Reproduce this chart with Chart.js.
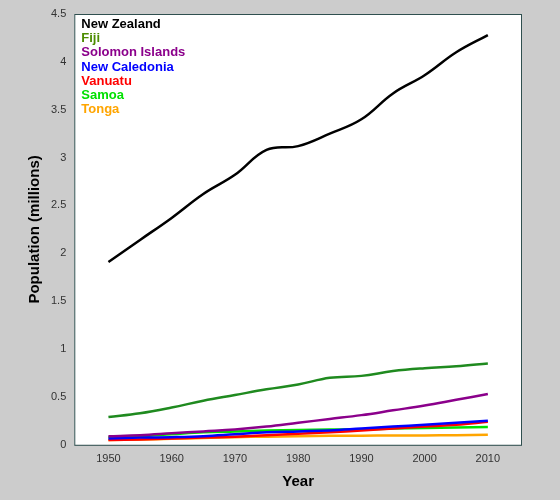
<!DOCTYPE html><html><head><script src="https://cdn.jsdelivr.net/npm/chart.js@4"></script>
<style>html,body{margin:0;background:#cccccc}</style></head><body>
<div style="width:560px;height:500px"><canvas id="c"></canvas></div>
<script>
const years=[1950,1955,1960,1965,1970,1975,1980,1985,1990,1995,2000,2005,2010];
const names=["New Zealand","Fiji","Solomon Islands","New Caledonia","Vanuatu","Samoa","Tonga"];
const colors=["#000000","#1f8a1f","#8b008b","#0000ff","#ff0000","#00e000","#ffa500"];
const textColors=["#000000","#4c8c00","#8b008b","#0000ff","#ff0000","#00e000","#ffa500"];
const nz=[1.91,2.14,2.37,2.62,2.82,3.08,3.12,3.25,3.40,3.67,3.86,4.10,4.28];
const fiji=[0.29,0.33,0.39,0.46,0.52,0.58,0.63,0.70,0.72,0.77,0.80,0.82,0.85];
const solomon=[0.09,0.10,0.12,0.14,0.16,0.19,0.23,0.27,0.31,0.36,0.41,0.47,0.53];
const caledonia=[0.065,0.075,0.08,0.09,0.11,0.13,0.14,0.15,0.17,0.19,0.21,0.23,0.25];
const vanuatu=[0.05,0.055,0.065,0.075,0.085,0.10,0.115,0.13,0.15,0.17,0.19,0.21,0.24];
const samoa=[0.08,0.09,0.11,0.13,0.14,0.15,0.155,0.16,0.16,0.17,0.175,0.18,0.185];
const tonga=[0.05,0.055,0.062,0.07,0.08,0.085,0.09,0.094,0.095,0.097,0.098,0.10,0.104];
const series=[nz,fiji,solomon,caledonia,vanuatu,samoa,tonga];
const frame={id:'frame',beforeDraw(ch){const a=ch.chartArea,c=ch.ctx;c.save();c.fillStyle='#fff';c.fillRect(a.left,a.top,a.width,a.height);c.restore();},
afterDraw(ch){const a=ch.chartArea,c=ch.ctx;c.save();c.strokeStyle='#2f4f4f';c.lineWidth=1;c.strokeRect(a.left+0.5,a.top+0.5,a.width-1,a.height);
c.font='bold 13px Arial, "Liberation Sans"';c.textBaseline='top';
names.forEach((n,i)=>{c.fillStyle=textColors[i];c.fillText(n,a.left+7,a.top+4+i*14.2);});c.restore();}};
new Chart(document.getElementById('c'),{type:'line',
data:{datasets:series.map((s,i)=>({label:names[i],data:s.map((v,j)=>({x:years[j],y:v})),borderColor:colors[i],borderWidth:2.5,pointRadius:0,tension:0.4,fill:false}))},
options:{responsive:true,maintainAspectRatio:false,animation:false,layout:{padding:{left:22,right:38,top:14,bottom:5}},
plugins:{legend:{display:false},tooltip:{enabled:false}},
scales:{x:{type:'linear',min:1944.6,max:2015.4,afterBuildTicks(ax){ax.ticks=[1950,1960,1970,1980,1990,2000,2010].map(v=>({value:v}));},
grid:{display:false,drawTicks:true,tickLength:5,tickColor:'#333'},border:{display:false},ticks:{color:'#333',font:{size:11,family:'Arial'},callback:v=>String(v)},
title:{display:true,text:'Year',color:'#000',font:{size:15,weight:'bold',family:'Arial'}}},
y:{min:0,max:4.5,ticks:{stepSize:0.5,color:'#333',font:{size:11,family:'Arial'},callback:v=>String(v)},grid:{display:false,tickLength:5,tickColor:'#333'},border:{display:false},
title:{display:true,text:'Population (millions)',color:'#000',font:{size:15,weight:'bold',family:'Arial'}}}}},
plugins:[frame]});
</script></body></html>
